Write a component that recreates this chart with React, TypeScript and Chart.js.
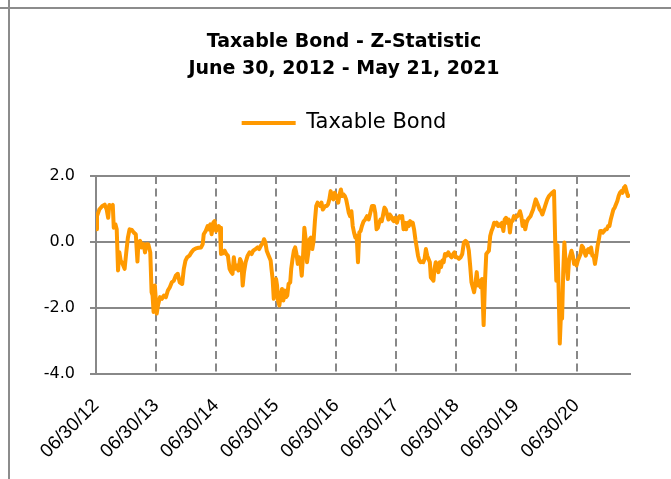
import React, { useEffect, useRef } from "react";
import { Chart, registerables } from "chart.js";

Chart.register(...registerables);

const chartTitle = ["Taxable Bond - Z-Statistic", "June 30, 2012 - May 21, 2021"];
const seriesLabel = "Taxable Bond";
const startDate = "2012-06-30";
const endDate = "2021-05-21";
const tickDates = [
  "2012-06-30", "2013-06-30", "2014-06-30", "2015-06-30", "2016-06-30",
  "2017-06-30", "2018-06-30", "2019-06-30", "2020-06-30",
];
const tickLabels = [
  "06/30/12", "06/30/13", "06/30/14", "06/30/15", "06/30/16",
  "06/30/17", "06/30/18", "06/30/19", "06/30/20",
];
const yMin = -4;
const yMax = 2;
const yStep = 2;

const dates = [
  "2012-06-30","2012-07-06","2012-07-20","2012-08-06","2012-08-22","2012-09-03","2012-09-12","2012-09-19","2012-10-01","2012-10-10",
  "2012-10-16","2012-10-26","2012-11-03","2012-11-11","2012-11-19","2012-11-27","2012-12-09","2012-12-21","2012-12-31","2013-01-10",
  "2013-01-20","2013-02-03","2013-02-15","2013-02-27","2013-03-09","2013-03-15","2013-03-25","2013-04-04","2013-04-16","2013-04-24",
  "2013-05-02","2013-05-14","2013-05-26","2013-06-03","2013-06-09","2013-06-15","2013-06-23","2013-07-04","2013-07-12","2013-07-24",
  "2013-08-05","2013-08-17","2013-08-29","2013-09-10","2013-09-22","2013-10-04","2013-10-16","2013-10-28","2013-11-09","2013-11-21",
  "2013-12-06","2013-12-16","2013-12-26","2014-01-05","2014-01-19","2014-01-31","2014-02-13","2014-02-27","2014-03-15","2014-03-31",
  "2014-04-10","2014-04-16","2014-04-28","2014-05-10","2014-05-18","2014-05-26","2014-06-03","2014-06-13","2014-06-21","2014-06-30",
  "2014-07-08","2014-07-16","2014-07-24","2014-07-30","2014-08-09","2014-08-21","2014-08-31","2014-09-10","2014-09-20","2014-09-30",
  "2014-10-08","2014-10-16","2014-10-24","2014-11-05","2014-11-13","2014-11-23","2014-12-01","2014-12-09","2014-12-17","2014-12-27",
  "2015-01-08","2015-01-20","2015-02-01","2015-02-11","2015-02-25","2015-03-09","2015-03-19","2015-03-29","2015-04-10","2015-04-18",
  "2015-04-26","2015-05-04","2015-05-16","2015-05-28","2015-06-02","2015-06-09","2015-06-16","2015-06-23","2015-06-30","2015-07-06",
  "2015-07-12","2015-07-20","2015-07-28","2015-08-05","2015-08-13","2015-08-21","2015-08-29","2015-09-06","2015-09-14","2015-09-24",
  "2015-09-30","2015-10-08","2015-10-16","2015-10-24","2015-11-01","2015-11-09","2015-11-17","2015-11-25","2015-12-03","2015-12-11",
  "2015-12-19","2015-12-27","2016-01-04","2016-01-12","2016-01-20","2016-01-28","2016-02-05","2016-02-13","2016-02-21","2016-02-29",
  "2016-03-08","2016-03-16","2016-03-24","2016-04-01","2016-04-09","2016-04-17","2016-04-25","2016-05-03","2016-05-11","2016-05-19",
  "2016-05-27","2016-06-04","2016-06-12","2016-06-20","2016-07-04","2016-07-12","2016-07-20","2016-07-28","2016-08-05","2016-08-13",
  "2016-08-21","2016-08-29","2016-09-06","2016-09-14","2016-09-22","2016-09-30","2016-10-08","2016-10-16","2016-10-24","2016-11-01",
  "2016-11-09","2016-11-17","2016-11-25","2016-12-03","2016-12-13","2016-12-23","2017-01-03","2017-01-13","2017-01-23","2017-02-02",
  "2017-02-14","2017-02-22","2017-03-02","2017-03-10","2017-03-18","2017-03-26","2017-04-03","2017-04-11","2017-04-19","2017-04-27",
  "2017-05-05","2017-05-13","2017-05-21","2017-05-29","2017-06-06","2017-06-14","2017-06-22","2017-07-04","2017-07-12","2017-07-20",
  "2017-07-28","2017-08-05","2017-08-13","2017-08-21","2017-08-29","2017-09-06","2017-09-14","2017-09-22","2017-09-30","2017-10-08",
  "2017-10-16","2017-10-24","2017-11-01","2017-11-09","2017-11-17","2017-11-25","2017-12-03","2017-12-11","2017-12-19","2017-12-27",
  "2018-01-04","2018-01-12","2018-01-20","2018-01-26","2018-02-03","2018-02-11","2018-02-17","2018-02-25","2018-03-05","2018-03-13",
  "2018-03-21","2018-03-29","2018-04-06","2018-04-14","2018-04-22","2018-05-02","2018-05-12","2018-05-22","2018-06-01","2018-06-11",
  "2018-06-19","2018-06-26","2018-07-06","2018-07-16","2018-07-26","2018-08-05","2018-08-15","2018-08-25","2018-09-04","2018-09-14",
  "2018-09-22","2018-09-30","2018-10-08","2018-10-16","2018-10-24","2018-11-01","2018-11-09","2018-11-17","2018-11-25","2018-12-03",
  "2018-12-13","2018-12-21","2018-12-29","2019-01-06","2019-01-14","2019-01-22","2019-01-30","2019-02-07","2019-02-15","2019-02-23",
  "2019-03-03","2019-03-11","2019-03-19","2019-03-27","2019-04-04","2019-04-12","2019-04-20","2019-04-28","2019-05-06","2019-05-14",
  "2019-05-22","2019-05-30","2019-06-07","2019-06-15","2019-06-23","2019-07-06","2019-07-14","2019-07-22","2019-07-30","2019-08-07",
  "2019-08-15","2019-08-23","2019-08-31","2019-09-08","2019-09-16","2019-09-24","2019-10-02","2019-10-10","2019-10-18","2019-10-26",
  "2019-11-03","2019-11-11","2019-11-19","2019-11-27","2019-12-05","2019-12-15","2019-12-25","2020-01-04","2020-01-14","2020-01-24",
  "2020-02-03","2020-02-14","2020-02-21","2020-02-28","2020-03-06","2020-03-13","2020-03-20","2020-03-27","2020-04-03","2020-04-10",
  "2020-04-17","2020-04-24","2020-05-01","2020-05-08","2020-05-15","2020-05-22","2020-05-30","2020-06-07","2020-06-15","2020-06-23",
  "2020-06-30","2020-07-08","2020-07-16","2020-07-24","2020-08-01","2020-08-09","2020-08-17","2020-08-25","2020-09-02","2020-09-10",
  "2020-09-18","2020-09-26","2020-10-04","2020-10-12","2020-10-20","2020-10-28","2020-11-05","2020-11-13","2020-11-21","2020-11-29",
  "2020-12-07","2020-12-15","2020-12-23","2020-12-31","2021-01-08","2021-01-16","2021-01-24","2021-02-01","2021-02-09","2021-02-17",
  "2021-02-25","2021-03-05","2021-03-13","2021-03-21","2021-03-29","2021-04-06","2021-04-14","2021-04-22","2021-04-30","2021-05-08","2021-05-21",
];

const zScores = [
  0.38, 0.78, 0.98, 1.08, 1.13, 0.98, 0.73, 1.12, 1.08, 1.12,
  0.43, 0.53, 0.38, -0.87, -0.32, -0.57, -0.67, -0.82, -0.32, 0.13,
  0.38, 0.36, 0.28, 0.23, -0.60, -0.02, 0.03, -0.17, -0.07, -0.32,
  -0.07, -0.07, -0.32, -1.53, -1.63, -2.13, -1.33, -2.18, -1.93, -1.68,
  -1.73, -1.63, -1.68, -1.48, -1.38, -1.23, -1.18, -1.03, -0.97, -1.23,
  -1.28, -0.82, -0.57, -0.47, -0.42, -0.32, -0.24, -0.20, -0.18, -0.17,
  -0.07, 0.23, 0.33, 0.48, 0.38, 0.53, 0.23, 0.58, 0.63, 0.33,
  0.43, 0.48, 0.43, -0.37, -0.35, -0.27, -0.37, -0.42, -0.82, -0.92,
  -0.97, -0.47, -0.82, -0.72, -0.87, -0.52, -0.62, -1.33, -0.92, -0.62,
  -0.42, -0.32, -0.37, -0.27, -0.22, -0.17, -0.22, -0.12, -0.04, 0.08,
  -0.02, -0.27, -0.42, -0.57, -0.82, -1.13, -1.73, -1.40, -1.13, -1.33,
  -1.78, -1.93, -1.63, -1.43, -1.78, -1.48, -1.68, -1.63, -1.28, -1.23,
  -0.82, -0.52, -0.27, -0.17, -0.37, -0.67, -0.47, -0.62, -1.03, -0.42,
  0.43, 0.08, -0.62, -0.32, 0.08, 0.13, -0.22, 0.03, 0.63, 1.09,
  1.19, 1.14, 1.09, 1.19, 0.98, 1.04, 1.09, 1.09, 1.14, 1.29,
  1.54, 1.39, 1.29, 1.49, 1.34, 1.19, 1.44, 1.59, 1.39, 1.44,
  1.39, 1.29, 1.09, 0.88, 0.78, 0.93, 0.48, 0.28, 0.13, 0.18,
  -0.62, 0.28, 0.33, 0.48, 0.62, 0.68, 0.78, 0.68, 0.88, 1.09,
  1.09, 0.88, 0.38, 0.43, 0.58, 0.68, 0.63, 0.83, 1.04, 0.98,
  0.83, 0.68, 0.83, 0.78, 0.68, 0.63, 0.73, 0.58, 0.73, 0.78,
  0.73, 0.78, 0.38, 0.58, 0.38, 0.58, 0.48, 0.63, 0.53, 0.58,
  0.38, 0.08, -0.17, -0.42, -0.57, -0.62, -0.60, -0.62, -0.52, -0.22,
  -0.42, -0.52, -0.62, -1.08, -1.13, -1.18, -0.82, -0.62, -0.77, -0.92,
  -0.62, -0.77, -0.57, -0.62, -0.37, -0.42, -0.32, -0.42, -0.47, -0.37,
  -0.32, -0.47, -0.47, -0.52, -0.47, -0.37, -0.02, 0.03, -0.02, -0.27,
  -0.72, -1.23, -1.38, -1.53, -1.28, -0.92, -1.33, -1.18, -1.38, -1.13,
  -2.53, -1.23, -0.37, -0.32, -0.27, 0.18, 0.33, 0.43, 0.58, 0.53,
  0.58, 0.48, 0.53, 0.48, 0.58, 0.33, 0.68, 0.73, 0.58, 0.68,
  0.28, 0.63, 0.63, 0.78, 0.73, 0.78, 0.83, 0.93, 0.78, 0.48,
  0.63, 0.38, 0.58, 0.68, 0.73, 0.78, 0.88, 0.98, 1.14, 1.29,
  1.19, 1.09, 0.98, 0.93, 0.83, 0.98, 1.14, 1.29, 1.39, 1.44,
  1.49, 1.54, 0.05, -1.18, -0.10, -1.43, -3.09, -2.23, -2.33, -0.92,
  -0.02, -0.57, -0.72, -1.13, -0.57, -0.42, -0.27, -0.42, -0.67, -0.57,
  -0.72, -0.57, -0.47, -0.37, -0.12, -0.17, -0.32, -0.42, -0.27, -0.22,
  -0.32, -0.17, -0.42, -0.42, -0.67, -0.42, -0.12, 0.08, 0.33, 0.33,
  0.28, 0.33, 0.38, 0.38, 0.48, 0.48, 0.68, 0.83, 0.98, 1.04,
  1.14, 1.24, 1.39, 1.49, 1.54, 1.49, 1.64, 1.69, 1.54, 1.39, 1.44,
];

const DAY_MS = 86400000;
const dayOffset = (d: string) => (Date.parse(d) - Date.parse(startDate)) / DAY_MS;

export default function App() {
  const canvasRef = useRef<HTMLCanvasElement | null>(null);
  const frameGray = "#8c8c8c";

  useEffect(() => {
    const canvas = canvasRef.current;
    if (!canvas) return;
    const gridGray = "#888888";
    const lineColor = "#ff9900";
    const chart = new Chart(canvas, {
      type: "line",
      data: {
        datasets: [
          {
            label: seriesLabel,
            data: dates.map((d, i) => ({ x: dayOffset(d), y: zScores[i] })),
            borderColor: lineColor,
            backgroundColor: lineColor,
            borderWidth: 4,
            pointRadius: 0,
            pointHoverRadius: 0,
            tension: 0,
            borderJoinStyle: "round",
            fill: false,
            yAxisID: "y",
          },
        ],
      },
      options: {
        animation: false,
        responsive: false,
        maintainAspectRatio: false,
        events: [],
        layout: { padding: { top: 0, left: 17, right: 0, bottom: 0 } },
        plugins: {
          title: {
            display: true,
            text: chartTitle,
            color: "#000",
            font: { family: "'DejaVu Sans', sans-serif", size: 19, weight: "bold", lineHeight: "27px" },
            padding: { top: 29, bottom: 19.5 },
          },
          legend: {
            display: true,
            labels: {
              usePointStyle: true,
              pointStyle: "line",
              pointStyleWidth: 54,
              color: "#000",
              font: { family: "'DejaVu Sans', sans-serif", size: 21 },
              padding: 10,
            },
          },
          subtitle: {
            display: true,
            text: "",
            weight: 500,
            padding: 0,
            font: { size: 10, lineHeight: "32.5px" },
          },
          tooltip: { enabled: false },
        },
        scales: {
          x: {
            type: "linear",
            min: 0,
            max: dayOffset(endDate),
            afterBuildTicks: (scale: any) => {
              scale.ticks = tickDates.map((d) => ({ value: dayOffset(d) }));
            },
            afterFit: (scale: any) => {
              scale.height = 105.5;
            },
            ticks: {
              autoSkip: false,
              minRotation: 45,
              maxRotation: 45,
              padding: 21,
              color: "#000",
              font: { family: "'Liberation Sans', sans-serif", size: 19 },
              callback: (_v: any, i: number) => tickLabels[i] ?? "",
            },
            grid: {
              drawTicks: false,
              lineWidth: 2,
              color: (ctx: any) => (ctx.tick && ctx.tick.value === 0 ? "rgba(0,0,0,0)" : gridGray),
            },
            border: { display: true, color: gridGray, width: 2, dash: [8, 4.5] },
          },
          y: {
            position: "left",
            min: yMin,
            max: yMax,
            afterFit: (scale: any) => {
              scale.width = 79;
            },
            ticks: {
              stepSize: yStep,
              padding: 15,
              color: "#000",
              font: { family: "'DejaVu Sans', sans-serif", size: 16 },
              callback: (v: any) => Number(v).toFixed(1),
            },
            grid: { color: gridGray, lineWidth: 2, drawTicks: true, tickLength: 6 },
            border: { display: true, color: gridGray, width: 2 },
          },
          rightSpace: {
            type: "linear",
            position: "right",
            display: true,
            afterFit: (scale: any) => {
              scale.width = 41;
            },
            ticks: { display: false },
            grid: { display: false, drawTicks: false },
            border: { display: false },
          },
        },
      } as any,
    });
    return () => chart.destroy();
  }, []);

  return (
    <div style={{ position: "absolute", left: 0, top: 0, width: 671, height: 479, background: "#fff" }}>
      <canvas
        ref={canvasRef}
        width={671}
        height={479}
        style={{ position: "absolute", left: 0, top: 0, width: 671, height: 479 }}
      />
      <div style={{ position: "absolute", left: 0, top: 7, width: 671, height: 2, background: frameGray }} />
      <div style={{ position: "absolute", left: 8, top: 0, width: 2, height: 479, background: frameGray }} />
    </div>
  );
}
